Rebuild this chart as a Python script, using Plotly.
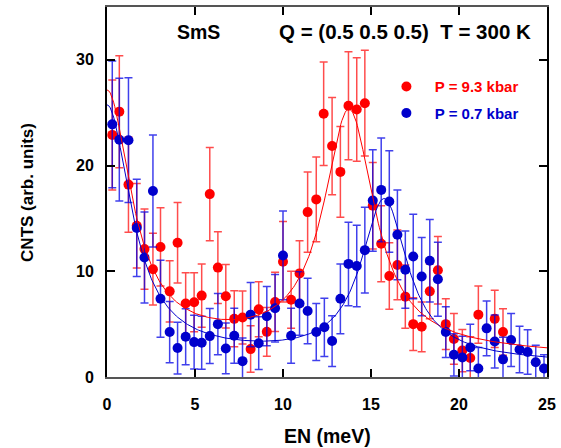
import numpy as np
import plotly.graph_objects as go

# ---------------- data ----------------
red_x = [0.30, 0.70, 1.22, 1.69, 2.13, 2.61, 3.04, 3.56, 4.01, 4.47, 4.95, 5.38, 5.84, 6.30,
         6.75, 7.23, 7.70, 8.16, 8.62, 9.08, 9.55, 10.00, 10.46, 10.94, 11.40, 11.89, 12.31,
         12.79, 13.26, 13.72, 14.19, 14.65, 15.10, 15.58, 16.04, 16.50, 16.95, 17.40, 17.88,
         18.34, 18.80, 19.25, 19.71, 20.19, 20.64, 21.10, 22.03, 22.50]
red_y = [22.9, 25.1, 18.2, 14.3, 12.1, 10.2, 12.3, 8.1, 12.7, 6.95, 7.07, 7.7, 17.3, 10.35,
         7.64, 5.5, 5.63, 2.64, 6.4, 4.27, 7.1, 10.9, 7.3, 9.8, 15.6, 16.8, 24.9,
         21.85, 19.4, 25.66, 25.3, 25.9, 16.2, 12.6, 9.55, 10.6, 7.6, 5.0, 4.75,
         8.1, 10.1, 5.0, 3.6, 2.5, 1.8, 5.9, 5.5, 4.25]
red_err = [5.2, 5.3, 4.5, 4.0, 3.8, 3.4, 3.7, 2.9, 3.8, 2.9, 2.8, 3.0, 4.4, 3.4,
           3.0, 2.65, 2.5, 2.2, 2.6, 2.3, 2.8, 3.8, 2.7, 3.1, 3.8, 4.0, 4.9,
           4.6, 4.3, 5.1, 4.9, 5.0, 4.1, 3.6, 3.15, 3.3, 3.0, 2.5, 2.35,
           2.6, 3.2, 2.4, 2.4, 2.0, 2.0, 2.7, 2.7, 2.2]

blue_x = [0.30, 0.70, 1.22, 1.69, 2.13, 2.61, 3.04, 3.56, 4.01, 4.47, 4.95, 5.38, 5.84, 6.30,
          6.75, 7.23, 7.70, 8.16, 8.62, 9.08, 9.55, 10.00, 10.46, 10.94, 11.40, 11.89, 12.35,
          12.79, 13.26, 13.72, 14.19, 14.65, 15.10, 15.58, 16.04, 16.50, 16.95, 17.40, 17.88,
          18.34, 18.80, 19.25, 19.71, 20.19, 20.64, 21.10, 21.57, 22.03, 22.50, 22.96, 23.44,
          23.90, 24.36, 24.83]
blue_y = [23.9, 22.45, 22.4, 14.1, 11.3, 17.6, 7.4, 4.25, 2.74, 3.8, 3.3, 3.24, 3.87, 5.0,
          2.7, 3.9, 1.5, 5.9, 3.2, 5.75, 6.5, 11.5, 3.9, 6.95, 6.25, 4.25, 4.7,
          3.4, 7.4, 10.7, 10.5, 12.0, 16.7, 17.7, 16.6, 13.45, 10.15, 11.4, 9.5,
          11.0, 9.25, 4.25, 2.1, 1.85, 2.8, 0.8, 4.6, 3.36, 1.67, 3.5, 2.6,
          2.36, 1.4, 0.8]
blue_err = [6.0, 5.8, 5.9, 4.6, 4.3, 5.3, 3.65, 2.9, 2.45, 2.65, 2.55, 2.5, 2.6, 2.9,
            2.4, 2.6, 2.2, 3.05, 2.5, 2.8, 3.2, 4.2, 2.6, 3.0, 3.1, 2.7, 2.75,
            2.4, 3.3, 3.95, 3.85, 4.05, 4.8, 4.9, 4.8, 4.25, 3.65, 4.0, 3.7,
            3.9, 3.5, 2.4, 2.0, 2.0, 2.2, 2.0, 2.6, 2.5, 2.1, 2.5, 2.2,
            2.1, 1.6, 1.3]

# fitted model parameters: sloped background + quasielastic Lorentzian + inelastic Lorentzian
red_fit = dict(b0=3.0, b1=-0.035, aq=23.8, gq=1.65, a1=22.5, x1=13.75, g=1.75)
blue_fit = dict(b0=2.1, b1=-0.03, aq=23.5, gq=1.65, a1=15.0, x1=15.75, g=1.6)

x_ticks = [0, 5, 10, 15, 20, 25]
y_ticks = [0, 10, 20, 30]

red_label = "P = 9.3 kbar"
blue_label = "P = 0.7 kbar"


def model(x, b0, b1, aq, gq, a1, x1, g):
    return b0 + b1 * x + aq * gq ** 2 / (x ** 2 + gq ** 2) + a1 * g ** 2 / ((x - x1) ** 2 + g ** 2)


xf = np.linspace(0, 25, 400)

RED = "#ff0000"
BLUE = "#0000cc"
FONT = "Liberation Sans"

fig = go.Figure()

fig.add_trace(go.Scatter(
    x=red_x, y=red_y, mode="markers",
    name=f'<span style="color:{RED}">&nbsp;&nbsp;{red_label}</span>',
    legendgroup="r",
    marker=dict(color=RED, size=10, line=dict(width=0)),
    error_y=dict(type="data", array=red_err, color="rgba(255,0,0,0.7)", thickness=1.5, width=4),
))
fig.add_trace(go.Scatter(
    x=blue_x, y=blue_y, mode="markers",
    name=f'<span style="color:{BLUE}">&nbsp;&nbsp;{blue_label}</span>',
    legendgroup="b",
    marker=dict(color=BLUE, size=10, line=dict(width=0)),
    error_y=dict(type="data", array=blue_err, color="rgba(0,0,230,0.75)", thickness=1.5, width=4),
))
fig.add_trace(go.Scatter(x=xf, y=model(xf, **red_fit), mode="lines",
                         line=dict(color=RED, width=1), showlegend=False, hoverinfo="skip"))
fig.add_trace(go.Scatter(x=xf, y=model(xf, **blue_fit), mode="lines",
                         line=dict(color=BLUE, width=1), showlegend=False, hoverinfo="skip"))

axis_common = dict(
    showline=True, linewidth=2, mirror="ticks", ticks="inside", ticklen=8, tickwidth=1.5,
    tickcolor="black", showgrid=False, zeroline=False,
    tickfont=dict(family=FONT, size=16, color="black", weight="bold"),
)

fig.update_xaxes(range=[0, 25], tickvals=x_ticks, linecolor="#555555",
                 ticklabelstandoff=12, **axis_common)
fig.update_yaxes(range=[0, 35], tickvals=y_ticks, linecolor="black",
                 ticklabelstandoff=8, **axis_common)

fig.add_annotation(text="SmS", x=0.207, y=0.933, xref="paper", yref="paper",
                   showarrow=False, xanchor="center", yanchor="middle",
                   font=dict(family=FONT, size=19.5, color="black", weight="bold"))
fig.add_annotation(text="Q = (0.5 0.5 0.5)&nbsp; T = 300 K", x=0.677, y=0.933,
                   xref="paper", yref="paper", showarrow=False,
                   font=dict(family=FONT, size=20.5, color="black", weight="bold"),
                   xanchor="center", yanchor="middle")
fig.add_annotation(text="EN (meV)", x=0.5, y=-0.159, xref="paper", yref="paper",
                   showarrow=False, xanchor="center", yanchor="middle",
                   font=dict(family=FONT, size=19.5, color="black", weight="bold"))
fig.add_annotation(text="CNTS (arb. units)", x=-0.182, y=0.5, xref="paper", yref="paper",
                   showarrow=False, textangle=-90, xanchor="center", yanchor="middle",
                   font=dict(family=FONT, size=17, color="black", weight="bold"))

fig.update_layout(
    width=561, height=448,
    margin=dict(l=107, r=14, t=5, b=71),
    plot_bgcolor="white", paper_bgcolor="white",
    showlegend=True,
    legend=dict(x=0.635, y=0.829, xanchor="left", yanchor="top", bgcolor="rgba(0,0,0,0)",
                font=dict(family=FONT, size=15, weight="bold"), tracegroupgap=4,
                traceorder="grouped"),
)

fig.write_html("out.html", config={"displayModeBar": False},
               post_script="document.body.style.margin='0';document.body.style.overflow='hidden';")
